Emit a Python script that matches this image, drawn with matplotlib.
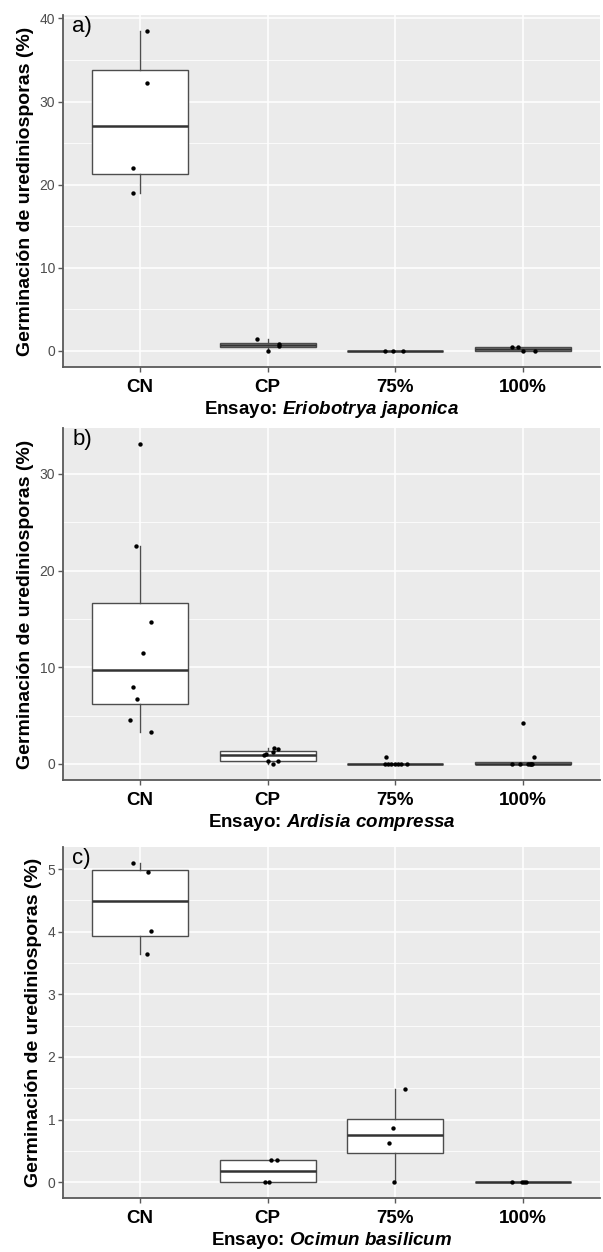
import numpy as np
import matplotlib.pyplot as plt
from matplotlib.ticker import MultipleLocator, NullLocator

plt.rcParams['font.family'] = 'Liberation Sans'
plt.rcParams['mathtext.fontset'] = 'custom'
plt.rcParams['mathtext.it'] = 'Liberation Sans:italic:bold'
plt.rcParams['mathtext.rm'] = 'Liberation Sans:bold'

cats = ['CN', 'CP', '75%', '100%']

# a) Eriobotrya japonica
ej_cn = [38.5, 32.2, 22.0, 19.0]
ej_cp = [1.44, 0.0, 0.84, 0.6]
ej_75 = [0.0, 0.0, 0.0]
ej_100 = [0.5, 0.5, 0.0, 0.0]
# horizontal jitter
jit_ej = [[0.06, 0.06, -0.055, -0.05],
          [-0.08, 0.0, 0.09, 0.09],
          [-0.08, -0.02, 0.06],
          [-0.09, -0.04, 0.0, 0.09]]

# b) Ardisia compressa
ac_cn = [33.1, 22.5, 14.7, 11.5, 7.96, 6.75, 4.5, 3.3]
ac_cp = [1.7, 1.6, 1.2, 1.0, 0.9, 0.35, 0.3, 0.0]
ac_75 = [0.75, 0.0, 0.0, 0.0, 0.0, 0.0, 0.0, 0.0]
ac_100 = [4.2, 0.69, 0.0, 0.0, 0.0, 0.0, 0.0, 0.0]
jit_ac = [[0.0, -0.033, 0.085, 0.024, -0.054, -0.024, -0.078, 0.09],
          [0.05, 0.08, 0.04, -0.01, -0.03, 0.08, 0.0, 0.04],
          [-0.07, -0.08, -0.06, -0.035, 0.0, 0.02, 0.04, 0.09],
          [0.0, 0.08, -0.085, -0.025, 0.04, 0.05, 0.06, 0.065]]

# c) Ocimun basilicum
ob_cn = [5.10, 4.95, 4.02, 3.65]
ob_cp = [0.346, 0.356, 0.0, 0.0]
ob_75 = [1.48, 0.86, 0.63, 0.0]
ob_100 = [0.0, 0.0, 0.0, 0.0]
jit_ob = [[-0.05, 0.066, 0.09, 0.054],
          [0.03, 0.07, -0.024, 0.015],
          [0.075, -0.02, -0.054, -0.012],
          [-0.09, -0.01, 0.006, 0.02]]

panels = [
    ('a)', 'Eriobotrya\\ japonica', [ej_cn, ej_cp, ej_75, ej_100], jit_ej, 10, 5),
    ('b)', 'Ardisia\\ compressa', [ac_cn, ac_cp, ac_75, ac_100], jit_ac, 10, 5),
    ('c)', 'Ocimun\\ basilicum', [ob_cn, ob_cp, ob_75, ob_100], jit_ob, 1, 0.5),
]

fig = plt.figure(figsize=(6.03, 12.52), dpi=100)
rects = [[0.1045, 0.7069, 0.8905, 0.2812],
         [0.1045, 0.3770, 0.8905, 0.2812],
         [0.1045, 0.0431, 0.8905, 0.2804]]

edge = '#4d4d4d'
for rect, (letter, species, groups, jits, major, minor) in zip(rects, panels):
    ax = fig.add_axes(rect)
    ax.set_facecolor('#EBEBEB')
    ax.boxplot(groups, positions=[1, 2, 3, 4], widths=0.75, whis=1.5,
               showfliers=False, showcaps=False, patch_artist=True,
               boxprops=dict(facecolor='white', edgecolor=edge, linewidth=1.0),
               medianprops=dict(color='#333333', linewidth=1.8),
               whiskerprops=dict(color=edge, linewidth=1.0), zorder=3)
    for i, (vals, jit) in enumerate(zip(groups, jits)):
        ax.scatter(i + 1 + np.array(jit), vals, s=10, color='black',
                   linewidths=0, zorder=4)

    allv = np.concatenate(groups)
    span = allv.max() - allv.min()
    ax.set_ylim(allv.min() - 0.05 * span, allv.max() + 0.05 * span)
    ax.set_xlim(0.4, 4.6)
    ax.yaxis.set_major_locator(MultipleLocator(major))
    ax.yaxis.set_minor_locator(MultipleLocator(minor))
    ax.xaxis.set_minor_locator(NullLocator())
    ax.set_xticks([1, 2, 3, 4])
    ax.set_xticklabels(cats, fontweight='bold')

    ax.set_axisbelow(True)
    ax.grid(which='major', color='white', linewidth=1.1)
    ax.grid(which='minor', axis='y', color='white', linewidth=0.55)
    for s in ['top', 'right']:
        ax.spines[s].set_visible(False)
    for s in ['left', 'bottom']:
        ax.spines[s].set_color('#595959')
        ax.spines[s].set_linewidth(1.3)
    ax.tick_params(axis='y', which='major', length=3.5, width=1, color='#595959',
                   labelsize=10, labelcolor='#4D4D4D', pad=2)
    ax.tick_params(axis='y', which='minor', length=0)
    ax.tick_params(axis='x', length=3.5, width=1, color='#595959',
                   labelsize=13.5, labelcolor='black', pad=5)

    ax.set_ylabel('Germinación de urediniosporas (%)', fontsize=14,
                  fontweight='bold', labelpad=4)
    ax.set_xlabel('Ensayo: $\\mathit{' + species + '}$', fontsize=13.5,
                  fontweight='bold', labelpad=2)
    ax.text(0.017, 0.997, letter, transform=ax.transAxes, fontsize=16,
            va='top', ha='left')

fig.savefig('out.png', dpi=100)
